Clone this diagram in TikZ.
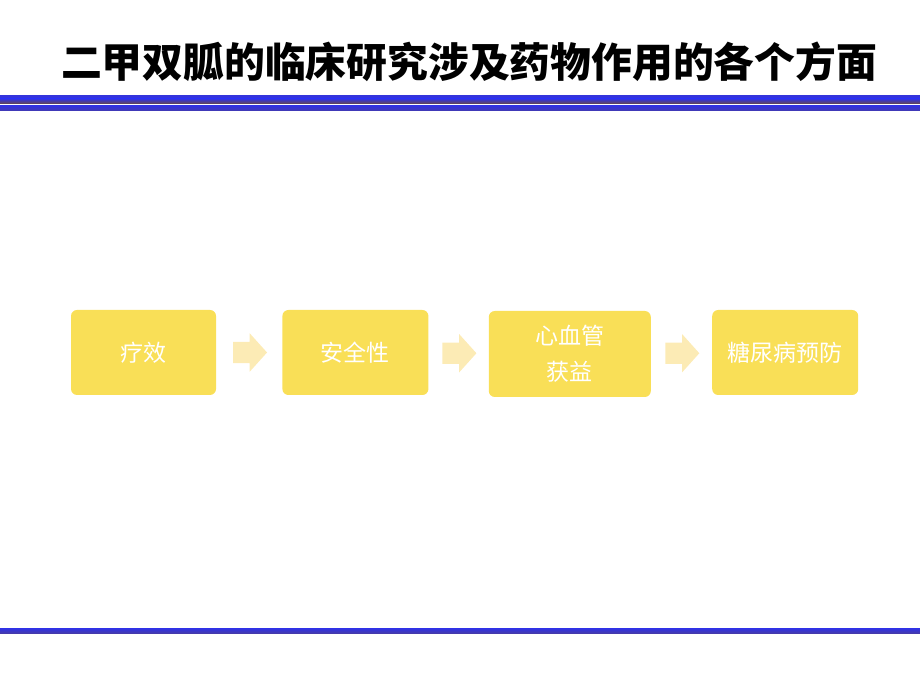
\documentclass[tikz,border=0pt]{standalone}
\usepackage{fontspec}
\newfontfamily\cjk{Noto Sans CJK SC}
\usetikzlibrary{positioning, calc, shapes.arrows}

\definecolor{barblue}{HTML}{3333DD}
\definecolor{barbrown}{HTML}{6A4A45}
\definecolor{stageyellow}{HTML}{F9DF57}
\definecolor{arrowyellow}{HTML}{FCEBB5}

\tikzset{
  stage/.style={fill=stageyellow, rounded corners=6pt, text=white, align=center,
    minimum width=145pt, minimum height=85pt, inner sep=0pt,
    font=\cjk\fontsize{23}{36}\selectfont},
  flowarrow/.style={single arrow, fill=arrowyellow, draw=none,
    minimum height=34pt, minimum width=38pt, inner xsep=0pt, inner ysep=10.5pt,
    single arrow head extend=8.5pt, single arrow tip angle=96, xshift=-4pt}
}

\begin{document}
\begin{tikzpicture}[x=1pt, y=1pt]

  % page frame
  \useasboundingbox (0,0) rectangle (920,690);

  % title
  \node[font=\cjk\bfseries\fontsize{40.8}{40.8}\selectfont] (title) at (469,628)
    {二甲双胍的临床研究涉及药物作用的各个方面};

  % rules under the title and at the foot
  \fill[barblue] (0,595) rectangle (920,591);
  \shade[top color=barblue, bottom color=barbrown] (0,591) rectangle (920,586);
  \shade[top color=barblue, bottom color=barblue!70!barbrown] (0,584) rectangle (920,579);
  \shade[top color=barblue, bottom color=barblue!60!barbrown] (0,61) rectangle (920,56);

  % stages
  \node[stage] (s1) at (143.5,337.5) {疗效};
  \node[stage, minimum width=146pt, right=66pt of s1] (s2) {安全性};
  \node[stage, minimum width=162pt, minimum height=86pt, right=60pt of s2, yshift=-1.5pt] (s3) {心血管\\获益};
  \node[stage, minimum width=146pt, right=61pt of s3, yshift=1.5pt] (s4) {糖尿病预防};

  % arrows between the stages
  \node[flowarrow] (a1) at ($(s1.east)!0.5!(s2.west)$) {};
  \node[flowarrow] (a2) at ($(s2.east)!0.5!(s3.west)$) {};
  \node[flowarrow] (a3) at ($(s3.east)!0.5!(s4.west)$) {};

\end{tikzpicture}
\end{document}
